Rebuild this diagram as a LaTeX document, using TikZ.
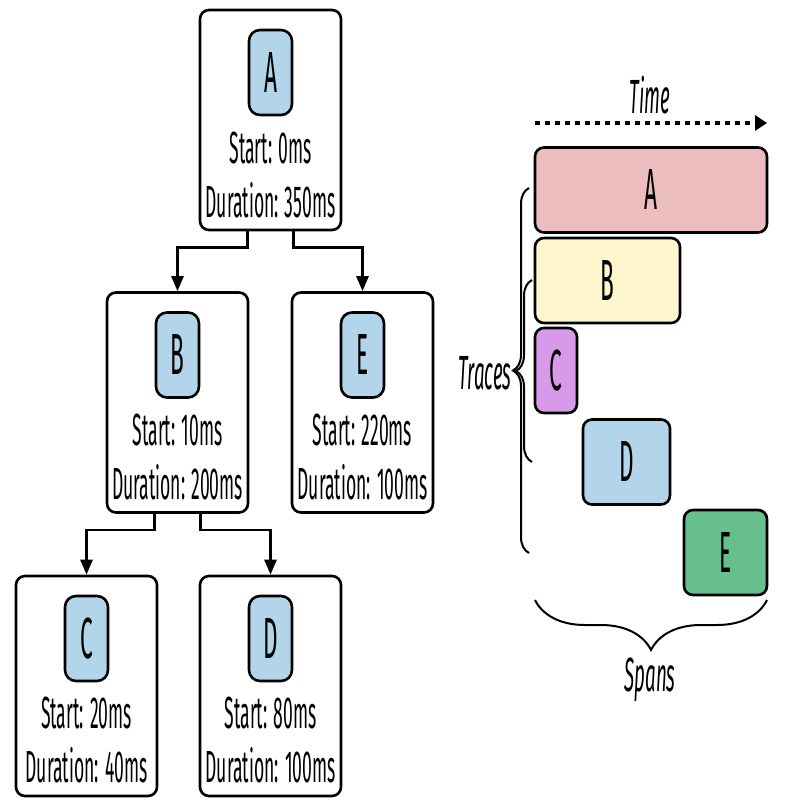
\documentclass[tikz,border=0pt]{standalone}
\usepackage{fontspec}
\setmainfont[FakeStretch=0.39]{Fira Sans}
\usetikzlibrary{arrows.meta,decorations.pathreplacing,positioning}
\definecolor{tagblue}{HTML}{B3D5EA}
\definecolor{spanpink}{HTML}{EBBDBF}
\definecolor{spanyellow}{HTML}{FFF6CE}
\definecolor{spanpurple}{HTML}{D89AE8}
\definecolor{spangreen}{HTML}{66BF8D}
\tikzset{
  spanbox/.style={draw,line width=2.6pt,rounded corners=9pt,minimum width=141pt,minimum height=220pt,inner sep=0pt},
  spantag/.style={draw,line width=2.6pt,rounded corners=11pt,fill=tagblue,minimum width=43pt,minimum height=85pt,inner sep=0pt,font=\fontsize{58}{58}\selectfont},
  spaninfo/.style={inner sep=0pt,font=\fontsize{45}{52}\selectfont},
  bar/.style={draw,line width=2.6pt,rounded corners=9pt,minimum height=85pt,inner sep=0pt,font=\fontsize{58}{58}\selectfont},
  link/.style={line width=2.6pt,-{Triangle[length=15pt,width=12pt]}},
  axislabel/.style={inner sep=0pt,font=\itshape\fontsize{48}{48}\selectfont},
  curly/.style={line width=2pt,decorate,decoration={brace,amplitude=#1}}
}

\begin{document}
\begin{tikzpicture}[x=1pt,y=-1pt]
  \useasboundingbox (0,0) rectangle (784,805);
  % span tree
  \node[spanbox] (boxA) at (270.5,120) {};
  \node[spantag,below=20pt of boxA.north] (tagA) {A};
  \node[spaninfo] (startA) at (270.5,148) {Start: 0ms};
  \node[spaninfo] (durA) at (270.5,200) {Duration: 350ms};

  \node[spanbox] (boxB) at (177.5,402.5) {};
  \node[spantag,below=20pt of boxB.north] (tagB) {B};
  \node[spaninfo] (startB) at (177.5,430) {Start: 10ms};
  \node[spaninfo] (durB) at (177.5,482) {Duration: 200ms};

  \node[spanbox] (boxE) at (362.5,402.5) {};
  \node[spantag,below=20pt of boxE.north] (tagE) {E};
  \node[spaninfo] (startE) at (362.5,430) {Start: 220ms};
  \node[spaninfo] (durE) at (362.5,482) {Duration: 100ms};

  \node[spanbox] (boxC) at (86.5,686) {};
  \node[spantag,below=20pt of boxC.north] (tagC) {C};
  \node[spaninfo] (startC) at (86.5,713) {Start: 20ms};
  \node[spaninfo] (durC) at (86.5,765) {Duration: 40ms};

  \node[spanbox] (boxD) at (270.5,686) {};
  \node[spantag,below=20pt of boxD.north] (tagD) {D};
  \node[spaninfo] (startD) at (270.5,713) {Start: 80ms};
  \node[spaninfo] (durD) at (270.5,765) {Duration: 100ms};

  \draw[link] (tagA.west |- boxA.south) -- ++(0,16) -| (boxB.north);
  \draw[link] (tagA.east |- boxA.south) -- ++(0,16) -| (boxE.north);
  \draw[link] (tagB.west |- boxB.south) -- ++(0,16) -| (boxC.north);
  \draw[link] (tagB.east |- boxB.south) -- ++(0,16) -| (boxD.north);

  % timeline
  \node[axislabel] (time) at (650,95) {Time};
  \coordinate (timeL) at (535,123);
  \coordinate (timeR) at (767,123);
  \draw[line width=4pt,dash pattern=on 5pt off 5pt,-{Triangle[length=12pt,width=15pt]}] (timeL) -- (timeR);

  \node[bar,fill=spanpink,minimum width=232pt] (barA) at (651,190) {A};
  \node[bar,fill=spanyellow,minimum width=145pt] (barB) at (607.5,280.5) {B};
  \node[bar,fill=spanpurple,minimum width=42pt] (barC) at (556,370.5) {C};
  \node[bar,fill=tagblue,minimum width=87pt] (barD) at (626.5,462) {D};
  \node[bar,fill=spangreen,minimum width=83pt] (barE) at (725.5,552.5) {E};

  % braces
  \coordinate (outerB) at (529,553);
  \coordinate (outerT) at (529,188);
  \coordinate (innerB) at (532,462);
  \coordinate (innerT) at (532,280);
  \draw[curly=16pt] (outerB) -- (outerT);
  \draw[curly=16pt] (innerB) -- (innerT);
  \node[axislabel] (traces) at (485,373) {Traces};

  \coordinate (spansR) at (767,600);
  \coordinate (spansL) at (535,600);
  \draw[curly=50pt] (spansR) -- (spansL);
  \node[axislabel] (spans) at (650,680) {Spans};
\end{tikzpicture}
\end{document}
